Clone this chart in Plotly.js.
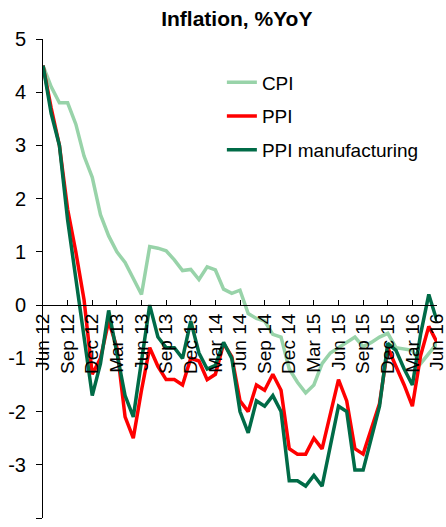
<!DOCTYPE html>
<html>
<head>
<meta charset="utf-8">
<script src="https://cdn.plot.ly/plotly-3.0.1.min.js"></script>
<style>
html,body{margin:0;padding:0;background:#fff;}
#chart{width:446px;height:527px;}
</style>
</head>
<body>
<div id="chart"></div>
<script>
const months = [
  "Jun 12","Jul 12","Aug 12","Sep 12","Oct 12","Nov 12","Dec 12",
  "Jan 13","Feb 13","Mar 13","Apr 13","May 13","Jun 13","Jul 13","Aug 13","Sep 13","Oct 13","Nov 13","Dec 13",
  "Jan 14","Feb 14","Mar 14","Apr 14","May 14","Jun 14","Jul 14","Aug 14","Sep 14","Oct 14","Nov 14","Dec 14",
  "Jan 15","Feb 15","Mar 15","Apr 15","May 15","Jun 15","Jul 15","Aug 15","Sep 15","Oct 15","Nov 15","Dec 15",
  "Jan 16","Feb 16","Mar 16","Apr 16","May 16","Jun 16"
];
const tickLabels = ["Jun 12","Sep 12","Dec 12","Mar 13","Jun 13","Sep 13","Dec 13","Mar 14","Jun 14","Sep 14","Dec 14","Mar 15","Jun 15","Sep 15","Dec 15","Mar 16","Jun 16"];
const cpi = [4.5,4.1,3.8,3.8,3.4,2.8,2.4,1.7,1.3,1.0,0.8,0.5,0.2,1.1,1.07,1.02,0.85,0.65,0.67,0.48,0.72,0.66,0.3,0.22,0.28,-0.16,-0.25,-0.3,-0.55,-0.6,-1.2,-1.45,-1.65,-1.5,-1.1,-0.9,-0.8,-0.7,-0.6,-0.78,-0.7,-0.6,-0.53,-0.8,-0.82,-0.85,-1.1,-0.9,-0.72];
const ppi = [4.5,3.7,3.0,1.8,1.0,0.1,-1.3,-1.0,-0.3,-0.8,-2.1,-2.5,-1.6,-0.8,-1.15,-1.4,-1.4,-1.5,-1.0,-1.05,-1.4,-1.3,-0.72,-0.97,-1.8,-2.0,-1.5,-1.6,-1.3,-1.6,-2.7,-2.8,-2.8,-2.5,-2.7,-2.05,-1.4,-1.8,-2.7,-2.8,-2.3,-1.85,-0.8,-1.15,-1.5,-1.9,-0.95,-0.4,-0.7];
const ppiMfg = [4.5,3.6,3.0,1.6,0.5,-0.6,-1.7,-1.1,-0.1,-0.9,-1.7,-2.1,-1.0,0.0,-0.6,-0.8,-0.8,-1.0,-0.3,-0.9,-1.2,-1.13,-0.7,-1.0,-2.0,-2.4,-1.8,-1.9,-1.7,-2.0,-3.3,-3.3,-3.4,-3.2,-3.4,-2.65,-1.9,-2.0,-3.1,-3.1,-2.5,-1.9,-0.72,-0.85,-1.2,-1.5,-0.55,0.2,-0.3];
const yTickVals = [-4,-3,-2,-1,0,1,2,3,4,5];
const yTickText = ["-4","-3","-2","-1","0","1","2","3","4","5"];

const FONT = "Liberation Sans, Arial, sans-serif";

const traces = [
  {x: months, y: cpi, name: "CPI", type: "scatter", mode: "lines", legendgroup: "a",
   line: {color: "#98d3a9", width: 3.5}},
  {x: months, y: ppi, name: "PPI", type: "scatter", mode: "lines", legendgroup: "b",
   line: {color: "#ff0000", width: 3.5}},
  {x: months, y: ppiMfg, name: "PPI manufacturing", type: "scatter", mode: "lines", legendgroup: "c",
   line: {color: "#006b47", width: 3.5}}
];

const layout = {
  width: 446, height: 527,
  margin: {l: 43, r: 9, t: 39, b: 9, autoexpand: false},
  paper_bgcolor: "#fff", plot_bgcolor: "#fff",
  font: {family: FONT, size: 19, color: "#000"},
  title: {text: "<b>Inflation, %YoY</b>", font: {family: FONT, size: 21, color: "#000"},
          x: 0.531, xanchor: "center", y: 0.964, yanchor: "middle", xref: "container", yref: "container"},
  showlegend: true,
  legend: {x: 0.454, y: 0.949, xanchor: "left", yanchor: "top", bgcolor: "rgba(0,0,0,0)",
           font: {family: FONT, size: 19, color: "#000"}, traceorder: "grouped", tracegroupgap: 6},
  xaxis: {
    type: "category", categoryarray: months, range: [0, 48],
    anchor: "free", position: 4/9,
    showline: true, linecolor: "#000", linewidth: 1,
    ticks: "inside", ticklen: 5, tickcolor: "#000",
    tickmode: "array", tickvals: tickLabels, ticktext: tickLabels,
    tickangle: -90, tickfont: {family: FONT, size: 19, color: "#000"},
    showgrid: false, zeroline: false, fixedrange: true
  },
  yaxis: {
    range: [-4, 5], showline: true, linecolor: "#000", linewidth: 1,
    ticks: "outside", ticklen: 6, tickcolor: "#000",
    tickmode: "array", tickvals: yTickVals, ticktext: yTickText,
    tickfont: {family: FONT, size: 20, color: "#000"}, ticklabelstandoff: 6,
    showgrid: false, zeroline: false, fixedrange: true
  }
};

Plotly.newPlot("chart", traces, layout, {staticPlot: true, displayModeBar: false});
</script>
</body>
</html>
